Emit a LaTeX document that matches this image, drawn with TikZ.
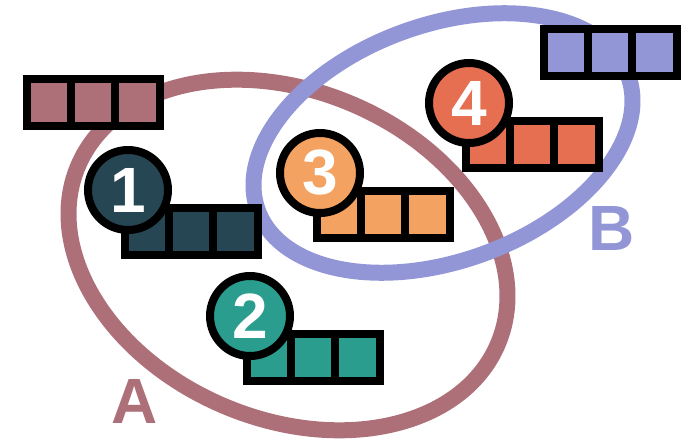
\documentclass[tikz,border=0pt]{standalone}
\usepackage{fontspec}
\setmainfont{Liberation Sans}
\usepackage{tikz}
\usetikzlibrary{positioning, calc}

\definecolor{setA}{RGB}{173,112,121}
\definecolor{setB}{RGB}{146,150,214}
\definecolor{navy}{HTML}{264653}
\definecolor{teal}{HTML}{2A9D8F}
\definecolor{sand}{HTML}{F4A261}
\definecolor{coral}{HTML}{E76F51}

\tikzset{
    cell/.style={draw=black, line width=8pt, outer sep=0pt, inner sep=0pt,
        minimum width=44.3pt, minimum height=47pt},
    badge/.style={circle, draw=black, line width=8pt, inner sep=0pt,
        minimum size=80pt, text=white, font=\fontsize{64}{64}\selectfont\bfseries},
    ring/.style={line width=16pt},
    setlabel/.style={inner sep=0pt, font=\fontsize{64}{64}\selectfont\bfseries}
}

\begin{document}
\begin{tikzpicture}[x=1pt, y=-1pt]
    \useasboundingbox (0,0) rectangle (681,441);

    % the two sets
    \draw[ring, setA, rotate around={-23:(288,255)}] (288,255) ellipse [x radius=228, y radius=164];
    \draw[ring, setB, rotate around={20:(443,143)}] (443,143) ellipse [x radius=197, y radius=118];
    \node[setlabel, text=setA] (labA) at (135,401) {A};
    \node[setlabel, text=setB] (labB) at (612,228) {B};

    % plain strips
    \foreach \s/\x/\y/\col in {pa/49/102.5/setA, pb/566/52.5/setB} {
        \node[cell, fill=\col] (\s1) at (\x,\y) {};
        \node[cell, fill=\col, right=0pt of \s1] (\s2) {};
        \node[cell, fill=\col, right=0pt of \s2] (\s3) {};
    }

    % numbered strips
    \foreach \n/\x/\y/\col in {1/147/231.5/navy, 2/269/357.5/teal, 3/339/214.5/sand, 4/488/144.5/coral} {
        \node[cell, fill=\col] (s\n a) at (\x,\y) {};
        \node[cell, fill=\col, right=0pt of s\n a] (s\n b) {};
        \node[cell, fill=\col, right=0pt of s\n b] (s\n c) {};
        \node[badge, fill=\col] (n\n) at ([shift={(-19,-41.5)}]s\n a.center) {\n};
    }
\end{tikzpicture}
\end{document}
